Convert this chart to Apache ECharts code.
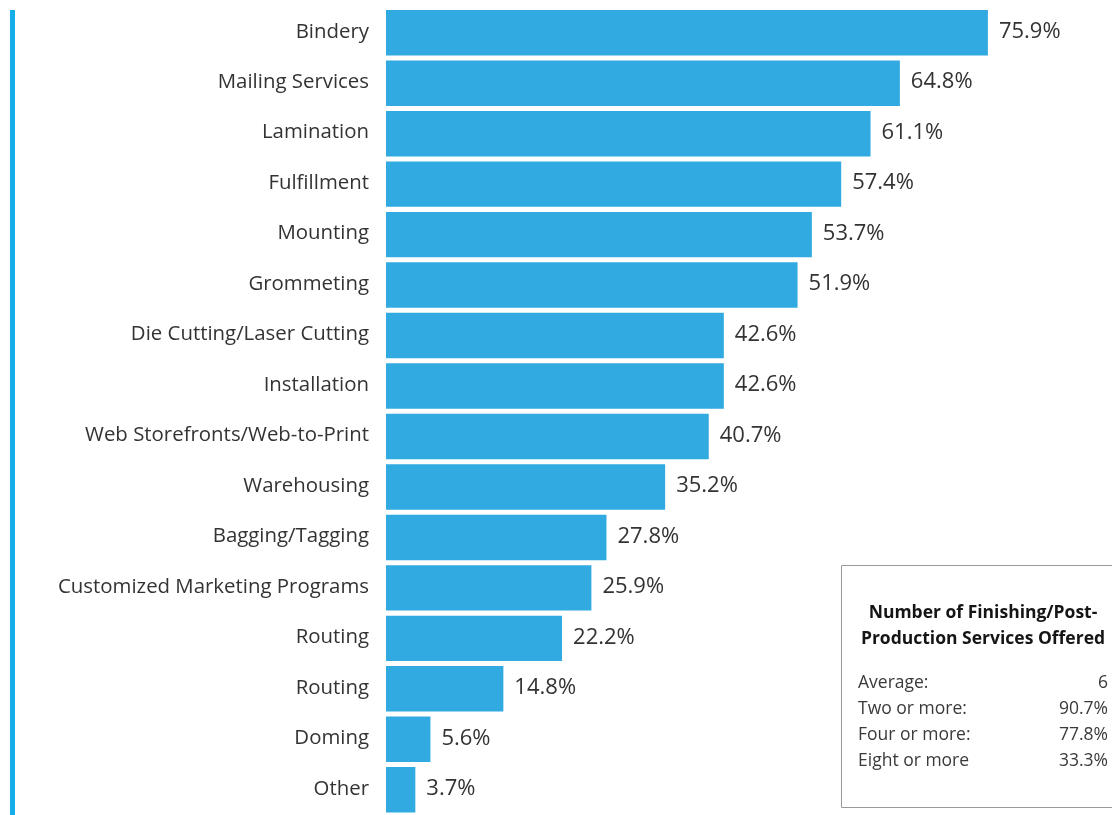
<!DOCTYPE html>
<html>
<head>
<meta charset="utf-8">
<script src="https://cdn.jsdelivr.net/npm/echarts@6/dist/echarts.min.js"></script>
<style>
  html, body { margin: 0; padding: 0; background: #fff; }
  #chart { width: 1112px; height: 815px; }
</style>
</head>
<body>
<div id="chart"></div>
<script>
// Finishing / post-production services offered (share of respondents, %)
const categories = [
  'Bindery', 'Mailing Services', 'Lamination', 'Fulfillment', 'Mounting',
  'Grommeting', 'Die Cutting/Laser Cutting', 'Installation',
  'Web Storefronts/Web-to-Print', 'Warehousing', 'Bagging/Tagging',
  'Customized Marketing Programs', 'Routing', 'Routing', 'Doming', 'Other'
];
const shares = [75.9, 64.8, 61.1, 57.4, 53.7, 51.9, 42.6, 42.6, 40.7, 35.2, 27.8, 25.9, 22.2, 14.8, 5.6, 3.7];

// Summary box
const summaryTitle = ['Number of Finishing/Post-', 'Production Services Offered'];
const summaryLabels = ['Average:', 'Two or more:', 'Four or more:', 'Eight or more'];
const summaryValues = ['6', '90.7%', '77.8%', '33.3%'];

const FONT = '"Open Sans", Lato, sans-serif';
const BAR = '#30aae0';
const TEXT = '#333';

const chart = echarts.init(document.getElementById('chart'));

const graphics = [
  { type: 'rect', shape: { x: 10, y: 10, width: 5, height: 810 }, style: { fill: '#16aee8' } },
  { type: 'rect', shape: { x: 841.5, y: 565.5, width: 280, height: 242 },
    style: { fill: '#fff', stroke: '#9a9a9a', lineWidth: 1 }, z: 10 }
];
summaryTitle.forEach((t, i) => {
  graphics.push({ type: 'text', x: 983, y: 613 + i * 26, z: 11,
    style: { text: t, font: 'bold 17.5px ' + FONT, fill: '#151515', align: 'center', verticalAlign: 'middle' } });
});
summaryLabels.forEach((t, i) => {
  graphics.push({ type: 'text', x: 858, y: 683 + i * 26, z: 11,
    style: { text: t, font: '17.5px ' + FONT, fill: '#3a3a3a', align: 'left', verticalAlign: 'middle' } });
  graphics.push({ type: 'text', x: 1108, y: 683 + i * 26, z: 11,
    style: { text: summaryValues[i], font: '17.5px ' + FONT, fill: '#3a3a3a', align: 'right', verticalAlign: 'middle' } });
});

chart.setOption({
  animation: false,
  backgroundColor: '#fff',
  grid: { left: 386, top: 7.5, right: 0, height: 808.6, containLabel: false },
  xAxis: {
    type: 'value', min: 0, max: 91.55, show: false
  },
  yAxis: {
    type: 'category', data: categories, inverse: true,
    axisLine: { show: false }, axisTick: { show: false },
    axisLabel: { color: TEXT, fontSize: 20.4, fontFamily: FONT, margin: 17, verticalAlign: 'bottom', lineHeight: 2 }
  },
  series: [{
    type: 'bar', data: shares, barCategoryGap: '10%',
    itemStyle: { color: BAR },
    label: {
      show: true, position: 'right', distance: 11,
      formatter: p => p.value.toFixed(1) + '%',
      color: TEXT, fontSize: 22, fontFamily: FONT, offset: [0, -1]
    }
  }],
  graphic: graphics
});
</script>
</body>
</html>
